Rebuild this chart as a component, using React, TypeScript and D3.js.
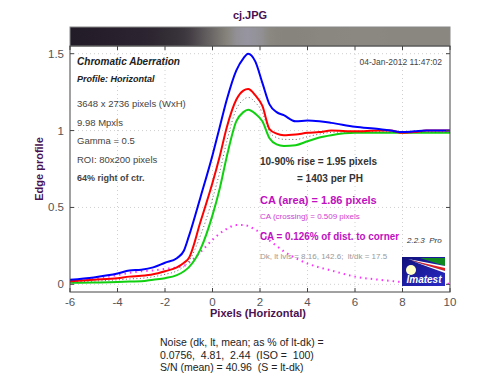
import React from "react";
import * as d3 from "d3";

// pixel positions along the edge (horizontal)
const xs = [-6, -5, -4, -3.5, -3, -2.5, -2, -1.5, -1.2, -1, -0.5, 0, 0.3, 0.6, 1, 1.3, 1.5, 1.8, 2.1, 2.4, 2.7, 3, 3.5, 4, 4.5, 5, 6, 7, 7.5, 8, 8.5, 9, 9.5, 10];

const blueVals = [0.03, 0.045, 0.07, 0.09, 0.095, 0.11, 0.14, 0.17, 0.22, 0.31, 0.57, 0.84, 1.02, 1.2, 1.39, 1.47, 1.5, 1.45, 1.31, 1.17, 1.12, 1.1, 1.06, 1.065, 1.06, 1.05, 1.025, 1.01, 1.0, 0.99, 0.995, 1.0, 1.0, 1.0];
const redVals = [0.02, 0.03, 0.04, 0.05, 0.055, 0.065, 0.085, 0.11, 0.14, 0.17, 0.41, 0.66, 0.83, 1.02, 1.2, 1.26, 1.27, 1.23, 1.16, 1.01, 0.98, 0.97, 0.975, 0.985, 0.99, 1.0, 0.995, 1.0, 1.0, 0.985, 0.99, 1.0, 1.0, 1.0];
const greenVals = [0.01, 0.012, 0.015, 0.018, 0.02, 0.03, 0.04, 0.06, 0.085, 0.11, 0.23, 0.45, 0.62, 0.83, 1.06, 1.12, 1.135, 1.11, 1.06, 0.95, 0.91, 0.9, 0.905, 0.93, 0.955, 0.97, 0.985, 0.985, 0.985, 0.985, 0.985, 0.985, 0.985, 0.985];
const lumVals = [0.015, 0.021, 0.029, 0.035, 0.039, 0.049, 0.065, 0.087, 0.116, 0.15, 0.32, 0.556, 0.727, 0.928, 1.138, 1.2, 1.216, 1.184, 1.117, 0.993, 0.954, 0.943, 0.942, 0.96, 0.977, 0.988, 0.992, 0.992, 0.991, 0.986, 0.987, 0.991, 0.991, 0.991];
const caVals = [0.02, 0.035, 0.06, 0.075, 0.085, 0.09, 0.1, 0.11, 0.12, 0.14, 0.21, 0.29, 0.33, 0.36, 0.385, 0.385, 0.38, 0.355, 0.33, 0.285, 0.25, 0.215, 0.17, 0.135, 0.11, 0.09, 0.05, 0.03, 0.022, 0.015, 0.012, 0.009, 0.006, 0.004];

const xTicks = [-6, -4, -2, 0, 2, 4, 6, 8, 10];
const yTicks = [0, 0.5, 1, 1.5];
const yTickLabels = ["0", "0.5", "1", "1.5"];

const leftNotes = [
  { text: "3648 x 2736 pixels (WxH)", bold: false },
  { text: "9.98 Mpxls", bold: false },
  { text: "Gamma = 0.5", bold: false },
  { text: "ROI: 80x200 pixels", bold: false },
  { text: "64% right of ctr.", bold: true },
];

const noiseLines = [
  "Noise (dk, lt, mean; as % of lt-dk) =",
  "0.0756,  4.81,  2.44  (ISO =  100)",
  "S/N (mean) = 40.96  (S = lt-dk)",
];

const FONT = "Arial, 'Liberation Sans', sans-serif";
const PURPLE = "#4a1050";
const MAG = "#c010c0";
const pre = { whiteSpace: "pre" as const };

export default function App() {
  const left = 70, right = 450, top = 46, bottom = 292, barTop = 27;
  const x = d3.scaleLinear().domain([-6, 10]).range([left, right]);
  const y = d3.scaleLinear().domain([-0.05, 1.55]).range([bottom, top]);

  const mk = (vals: number[]) =>
    d3.line<number>()
      .x((_, i) => x(xs[i]))
      .y((d) => y(d))
      .curve(d3.curveMonotoneX)(vals) || "";

  // gradient bar shows the edge itself, brightness from luminance profile
  const stops = xs.map((xv, i) => {
    const s = Math.sqrt(Math.max(lumVals[i], 0));
    const r = Math.round(20 + 118 * s);
    const g = Math.round(12 + 124 * s);
    const b = Math.round(28 + 100 * s + (lumVals[i] > 1 ? 100 * (lumVals[i] - 1) : 0));
    return { off: (x(xv) - left) / (right - left), color: `rgb(${r},${g},${Math.min(b, 200)})` };
  });

  return (
    <svg width={500} height={384} style={{ position: "absolute", left: 0, top: 0, background: "#fff" }} fontFamily={FONT}>
      <defs>
        <linearGradient id="edgebar" x1="0" x2="1" y1="0" y2="0">
          {stops.map((s, i) => (
            <stop key={i} offset={s.off} stopColor={s.color} />
          ))}
        </linearGradient>
        <linearGradient id="logobg" x1="0" x2="1" y1="0" y2="1">
          <stop offset="0" stopColor="#10107a" />
          <stop offset="1" stopColor="#2a2ac8" />
        </linearGradient>
      </defs>

      <text x={250} y={19} textAnchor="middle" fontSize={11} fontWeight="bold" fill={PURPLE}>cj.JPG</text>

      <rect x={left} y={barTop} width={right - left} height={top - barTop} fill="url(#edgebar)" stroke="#888" strokeWidth={1} />

      {/* grid */}
      {xTicks.slice(1, -1).map((t) => (
        <line key={"gx" + t} x1={x(t)} x2={x(t)} y1={top} y2={bottom} stroke="#d0d0d0" strokeDasharray="1,3" />
      ))}
      {yTicks.map((t) => (
        <line key={"gy" + t} x1={left} x2={right} y1={y(t)} y2={y(t)} stroke="#d0d0d0" strokeDasharray="1,3" />
      ))}

      {/* curves */}
      <path d={mk(caVals)} fill="none" stroke="#ff30ff" strokeWidth={2} strokeDasharray="1.5,4" />
      <path d={mk(greenVals)} fill="none" stroke="#10d010" strokeWidth={2} />
      <path d={mk(lumVals)} fill="none" stroke="#666" strokeWidth={1} strokeDasharray="1,2.5" />
      <path d={mk(redVals)} fill="none" stroke="#ff0000" strokeWidth={2} />
      <path d={mk(blueVals)} fill="none" stroke="#0000ff" strokeWidth={2} />

      {/* frame and ticks */}
      <rect x={left} y={top} width={right - left} height={bottom - top} fill="none" stroke="#444" strokeWidth={1} />
      {xTicks.map((t) => (
        <g key={"tx" + t}>
          <line x1={x(t)} x2={x(t)} y1={bottom} y2={bottom - 4} stroke="#444" />
          <line x1={x(t)} x2={x(t)} y1={top} y2={top + 4} stroke="#444" />
          <text x={x(t)} y={bottom + 14} textAnchor="middle" fontSize={11.5} fill="#555">{t}</text>
        </g>
      ))}
      {yTicks.map((t, i) => (
        <g key={"ty" + t}>
          <line x1={left} x2={left + 4} y1={y(t)} y2={y(t)} stroke="#444" />
          <line x1={right} x2={right - 4} y1={y(t)} y2={y(t)} stroke="#444" />
          <text x={left - 6} y={y(t) + 4} textAnchor="end" fontSize={11.5} fill="#555">{yTickLabels[i]}</text>
        </g>
      ))}

      <text x={258} y={317} textAnchor="middle" fontSize={11} fontWeight="bold" fill={PURPLE}>Pixels (Horizontal)</text>
      <text transform={`translate(43,${(top + bottom) / 2}) rotate(-90)`} textAnchor="middle" fontSize={11} fontWeight="bold" fill={PURPLE}>Edge profile</text>

      {/* annotations */}
      <text x={77} y={65} fontSize={10} fontWeight="bold" fontStyle="italic" fill="#222" textLength={103} lengthAdjust="spacingAndGlyphs">Chromatic Aberration</text>
      <text x={77} y={82} fontSize={9} fontWeight="bold" fontStyle="italic" fill="#222">Profile: Horizontal</text>
      {leftNotes.map((n, i) => (
        <text key={n.text} x={77} y={107 + i * 18.5} fontSize={n.bold ? 9 : 9.5} fontWeight={n.bold ? "bold" : "normal"} fill="#444">{n.text}</text>
      ))}
      <text x={442} y={65} textAnchor="end" fontSize={8.5} fill="#444">04-Jan-2012 11:47:02</text>

      <text x={260} y={165} fontSize={10} fontWeight="bold" fill="#333">10-90% rise = 1.95 pixels</text>
      <text x={297} y={182} fontSize={10} fontWeight="bold" fill="#333">= 1403 per PH</text>
      <text x={260} y={204} fontSize={11} fontWeight="bold" fill={MAG}>CA (area) = 1.86 pixels</text>
      <text x={260} y={219} fontSize={8} fill="#d040d0">CA (crossing) = 0.509 pixels</text>
      <text x={260} y={240} fontSize={10} fontWeight="bold" fill={MAG} textLength={139} lengthAdjust="spacingAndGlyphs">CA = 0.126% of dist. to corner</text>
      <text x={407} y={243} fontSize={8} fontStyle="italic" fill="#333" style={pre}>2.2.3  Pro</text>
      <text x={260} y={259} fontSize={8} fill="#999" style={pre}>Dk, lt lvls = 8.16, 142.6;  lt/dk = 17.5</text>

      {/* logo */}
      <g>
        <rect x={402} y={257} width={43} height={29} fill="url(#logobg)" />
        <polygon points="420,258 445,258 445,266" fill="#108a20" />
        <polygon points="408,259 445,266 445,270" fill="#ffffff" />
        <polygon points="410,260 445,268 445,271" fill="#e02020" />
        <polygon points="412,261 445,271 445,273" fill="#ffffff" />
        <circle cx={411} cy={270} r={5} fill="#ffffc8" />
        <text x={424} y={283} textAnchor="middle" fontSize={10} fontWeight="bold" fontStyle="italic" fill="#fff">Imatest</text>
      </g>

      {noiseLines.map((l, i) => (
        <text key={i} x={160} y={346 + i * 12.5} fontSize={10.5} fill="#222" style={pre}>{l}</text>
      ))}
    </svg>
  );
}
